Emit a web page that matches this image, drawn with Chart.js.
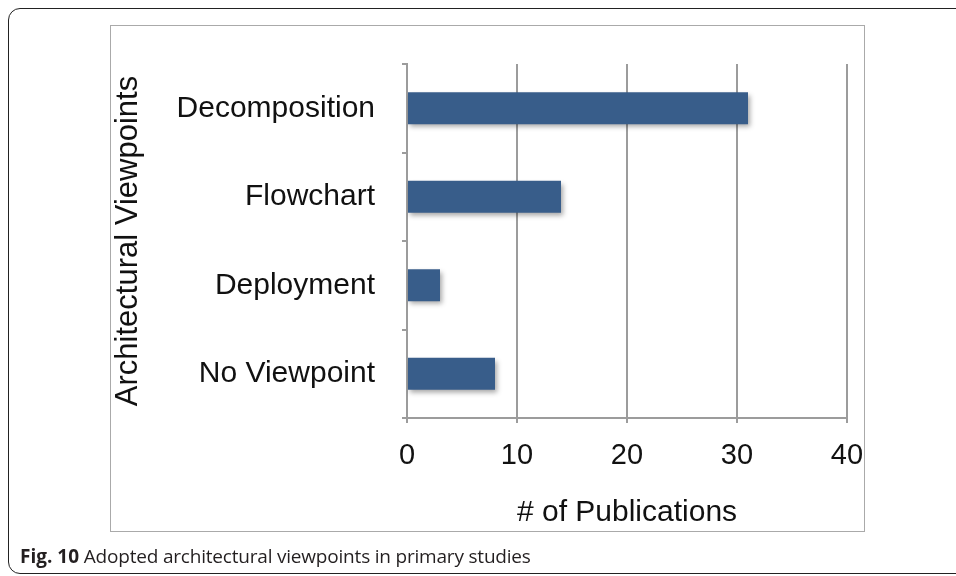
<!DOCTYPE html>
<html>
<head>
<meta charset="utf-8">
<script src="https://cdn.jsdelivr.net/npm/chart.js@4.4.0/dist/chart.umd.min.js"></script>
<style>
html, body { margin: 0; padding: 0; background: #fff; }
#wrap { position: relative; width: 956px; height: 576px; overflow: hidden; }
#outer { position: absolute; left: 8px; top: 8px; width: 990px; height: 566px; border: 1.5px solid #222; border-radius: 12px; box-sizing: border-box; }
#frame { position: absolute; left: 110px; top: 25px; width: 755px; height: 507px; border: 1.5px solid #aaa; box-sizing: border-box; }
#cap { position: absolute; left: 20px; top: 544px; font-family: 'Open Sans', sans-serif; font-size: 19px; line-height: 24px; letter-spacing: -0.2px; color: #231f20; white-space: nowrap; }
#cap b { font-weight: 700; letter-spacing: 0; }
#chart { position: absolute; left: 0; top: 0; }
</style>
</head>
<body>
<div id="wrap">
  <div id="outer"></div>
  <div id="frame"></div>
  <canvas id="chart" width="956" height="576"></canvas>
  <div id="cap"><b>Fig. 10</b> Adopted architectural viewpoints in primary studies</div>
</div>
<script>
// valeurs
const categories = ['Decomposition', 'Flowchart', 'Deployment', 'No Viewpoint'];
const publications = [31, 14, 3, 8];
const xTickValues = [0, 10, 20, 30, 40];
const xTitle = '# of Publications';
const yTitle = 'Architectural Viewpoints';

const fontFam = "'Liberation Sans', Arial, Helvetica, sans-serif";
const gridGray = '#9c9c9c';

// ombre légère sous les barres
const barShadow = {
    id: 'barShadow',
    beforeDatasetsDraw(chart) {
        const ctx = chart.ctx;
        ctx.save();
        ctx.shadowColor = 'rgba(0,0,0,0.35)';
        ctx.shadowBlur = 5;
        ctx.shadowOffsetX = 2;
        ctx.shadowOffsetY = 3;
    },
    afterDatasetsDraw(chart) {
        chart.ctx.restore();
    }
};

var ctx = document.getElementById('chart').getContext('2d');
var config = {
    type: 'bar',
    data: {
        labels: categories,
        datasets: [{
            data: publications,
            backgroundColor: '#385d8a',
            borderWidth: 0,
            categoryPercentage: 1,
            barPercentage: 0.36
        }]
    },
    plugins: [barShadow],
    options: {
        indexAxis: 'y',
        responsive: false,
        animation: false,
        layout: { padding: { left: 107, right: 109, top: 64, bottom: 42 } },
        plugins: { legend: { display: false }, tooltip: { enabled: false } },
        scales: {
            x: {
                min: xTickValues[0],
                max: xTickValues[xTickValues.length - 1],
                afterBuildTicks: function(scale) {
                    scale.ticks = xTickValues.map(v => ({ value: v }));
                },
                afterFit: function(scale) { scale.height = 116; },
                grid: { color: gridGray, lineWidth: 2, tickLength: 5, drawTicks: true },
                border: { color: gridGray, width: 2 },
                ticks: { color: '#111', padding: 16, font: { family: fontFam, size: 29 } },
                title: { display: true, text: xTitle, color: '#111', padding: { top: 4, bottom: 3 }, font: { family: fontFam, size: 30 } }
            },
            y: {
                afterFit: function(scale) { scale.width = 300; },
                grid: { drawOnChartArea: false, color: gridGray, lineWidth: 2, tickLength: 5, offset: true },
                border: { color: gridGray, width: 2 },
                ticks: { color: '#111', padding: 27, font: { family: fontFam, size: 30 } },
                title: { display: true, text: yTitle, color: '#111', padding: { top: 3, bottom: 4 }, font: { family: fontFam, size: 31 } }
            }
        }
    }
};
var myBarChart = new Chart(ctx, config);
</script>
</body>
</html>
